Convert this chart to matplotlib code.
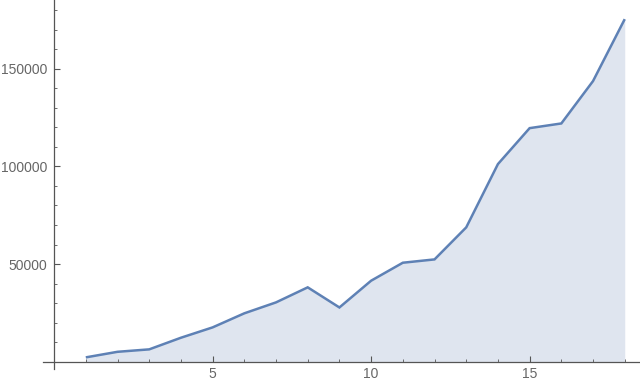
import matplotlib
matplotlib.use("Agg")
import matplotlib.pyplot as plt
from matplotlib.ticker import MultipleLocator

# values
xs = [1, 2, 3, 4, 5, 6, 7, 8, 9, 10, 11, 12, 13, 14, 15, 16, 17, 18]
ys = [2250, 5100, 6350, 12300, 17600, 24800, 30400, 38100, 27800, 41500,
      50700, 52400, 68800, 101200, 119600, 122000, 143700, 175400]
x_major = [5, 10, 15]
y_major = [50000, 100000, 150000]

line_color = "#5E81B5"
fill_color = "#DFE5EF"
axis_color = "#555555"

plt.rcParams["font.family"] = ["Liberation Sans", "DejaVu Sans"]

fig = plt.figure(figsize=(6.4, 3.83), dpi=100)
ax = fig.add_axes([43 / 640, (383 - 369) / 383, 596 / 640, 369 / 383])

ax.fill_between(xs, 0, ys, color=fill_color, linewidth=0, zorder=1)
ax.plot(xs, ys, color=line_color, linewidth=1.8, zorder=3,
        solid_joinstyle="miter", solid_capstyle="butt")

ax.set_xlim(-0.35, 18.45)
ax.set_ylim(-3700, 185200)

for side in ["top", "right"]:
    ax.spines[side].set_visible(False)
ax.spines["left"].set_position(("data", 0))
ax.spines["bottom"].set_position(("data", 0))
for side in ["left", "bottom"]:
    ax.spines[side].set_color(axis_color)
    ax.spines[side].set_linewidth(0.9)

ax.set_xticks(x_major)
ax.set_yticks(y_major)
ax.xaxis.set_minor_locator(MultipleLocator(1))
ax.yaxis.set_minor_locator(MultipleLocator(10000))
ax.tick_params(axis="both", which="major", direction="in", length=4.5,
               width=0.8, color=axis_color, labelcolor="#666666",
               labelsize=10)
ax.tick_params(axis="both", which="minor", direction="in", length=2.5,
               width=0.6, color=axis_color)
ax.tick_params(axis="x", which="major", pad=4)
ax.tick_params(axis="y", which="major", pad=5)

fig.savefig("out.png", dpi=100)
